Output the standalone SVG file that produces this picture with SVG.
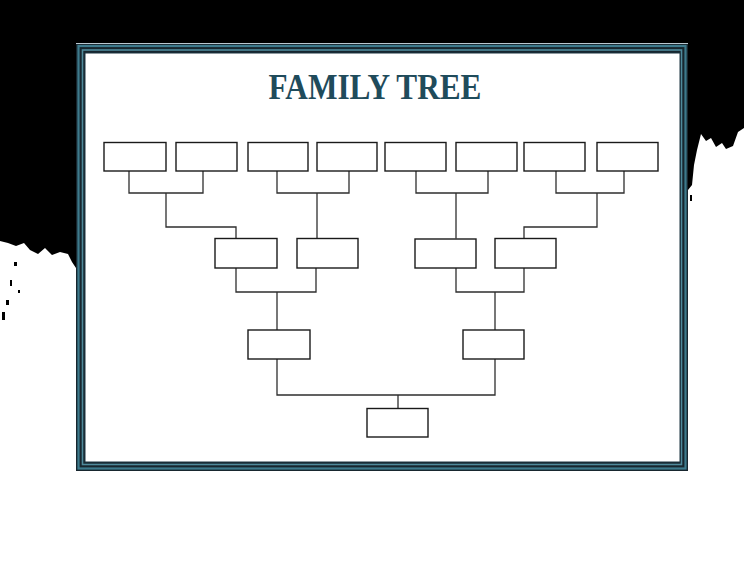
<svg xmlns="http://www.w3.org/2000/svg" width="744" height="568" viewBox="0 0 744 568">
  <style>
    .node rect { fill: #ffffff; stroke: #1a1a1a; stroke-width: 1.4; }
    .conn path { fill: none; stroke: #2e2e2e; stroke-width: 1.3; }
    .title { font-family: "Liberation Serif", "DejaVu Serif", serif; font-weight: bold; font-size: 36px; fill: #1f4b5b; }
  </style>
  <rect x="0" y="0" width="744" height="568" fill="#ffffff"/>
  <!-- black background -->
  <path d="M0 0 H744 V128 L738 132 L733 146 L726 149 L722 143 L716 147 L711 138 L706 141 L701 134 L697 150 L694 165 L692 185 L688 190 L688 43 L76 43 L76 268 L72 262 L68 254 L60 252 L52 255 L45 248 L38 254 L30 250 L24 243 L16 246 L8 243 L0 241 Z" fill="#000000"/>
  <g fill="#000000">
    <rect x="14" y="262" width="3" height="4"/>
    <rect x="10" y="280" width="2" height="6"/>
    <rect x="6" y="300" width="3" height="5"/>
    <rect x="2" y="312" width="3" height="8"/>
    <rect x="18" y="290" width="2" height="3"/>
    <rect x="690" y="195" width="2" height="6"/>
  </g>
  <!-- frame -->
  <g id="frame">
    <rect x="76" y="43" width="612" height="428" fill="#17262e"/>
    <line x1="76" y1="43.5" x2="688" y2="43.5" stroke="#b9c8d0" stroke-width="1.2"/>
    <rect x="78.5" y="46" width="607" height="422.5" fill="none" stroke="#3d7a8c" stroke-width="2.2"/>
    <rect x="82.5" y="50" width="599" height="414.5" fill="none" stroke="#4f8a9b" stroke-width="1.6"/>
    <rect x="85" y="53" width="595" height="409" fill="#ffffff" stroke="#1c3440" stroke-width="1"/>
  </g>
  <text class="title" x="375" y="99" text-anchor="middle" textLength="213" lengthAdjust="spacingAndGlyphs">FAMILY TREE</text>
  <!-- connectors -->
  <g class="conn" id="connectors">
    <path d="M129 171 V193 H203 V171"/>
    <path d="M166 193 V227 H236 V238.5"/>
    <path d="M277 171 V193 H349 V171"/>
    <path d="M317 193 V238.5"/>
    <path d="M416 171 V193 H488 V171"/>
    <path d="M456 193 V238.5"/>
    <path d="M556 171 V193 H624 V171"/>
    <path d="M597 193 V227 H524 V238.5"/>
    <path d="M236 268 V292 H316 V268"/>
    <path d="M277 292 V330"/>
    <path d="M456 268 V292 H524 V268"/>
    <path d="M495 292 V330"/>
    <path d="M277 359 V395 H495 V359"/>
    <path d="M398 395 V408.5"/>
  </g>
  <!-- top row -->
  <g id="g1" class="node"><rect x="104" y="142.5" width="62" height="28.5"/></g>
  <g id="g2" class="node"><rect x="176" y="142.5" width="61" height="28.5"/></g>
  <g id="g3" class="node"><rect x="248" y="142.5" width="60" height="28.5"/></g>
  <g id="g4" class="node"><rect x="317" y="142.5" width="60" height="28.5"/></g>
  <g id="g5" class="node"><rect x="385" y="142.5" width="61" height="28.5"/></g>
  <g id="g6" class="node"><rect x="456" y="142.5" width="61" height="28.5"/></g>
  <g id="g7" class="node"><rect x="524" y="142.5" width="61" height="28.5"/></g>
  <g id="g8" class="node"><rect x="597" y="142.5" width="61" height="28.5"/></g>
  <!-- second row -->
  <g id="p1" class="node"><rect x="215" y="238.5" width="62" height="29.5"/></g>
  <g id="p2" class="node"><rect x="297" y="238.5" width="61" height="29.5"/></g>
  <g id="p3" class="node"><rect x="415" y="239" width="61" height="29"/></g>
  <g id="p4" class="node"><rect x="495" y="238.5" width="61" height="29.5"/></g>
  <!-- third row -->
  <g id="q1" class="node"><rect x="248" y="330" width="62" height="29"/></g>
  <g id="q2" class="node"><rect x="463" y="330" width="61" height="29"/></g>
  <!-- root -->
  <g id="root" class="node"><rect x="367" y="408.5" width="61" height="28.5"/></g>
</svg>
